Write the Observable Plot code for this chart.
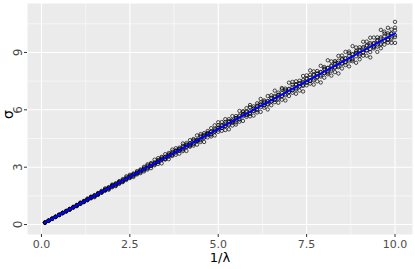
<!DOCTYPE html>
<html>
<head>
<meta charset="utf-8">
<script src="https://cdn.jsdelivr.net/npm/d3@7"></script>
<script src="https://cdn.jsdelivr.net/npm/@observablehq/plot@0.6"></script>
<style>
  html, body { margin: 0; padding: 0; background: #fff; }
  #chart svg { display: block; }
</style>
</head>
<body>
<div id="chart"></div>
<script>
// 1/λ values
const invLambda = [0.1,0.2,0.3,0.4,0.5,0.6,0.7,0.8,0.9,1.0,1.1,1.2,1.3,1.4,1.5,1.6,1.7,1.8,1.9,2.0,
  2.1,2.2,2.3,2.4,2.5,2.6,2.7,2.8,2.9,3.0,3.1,3.2,3.3,3.4,3.5,3.6,3.7,3.8,3.9,4.0,
  4.1,4.2,4.3,4.4,4.5,4.6,4.7,4.8,4.9,5.0,5.1,5.2,5.3,5.4,5.5,5.6,5.7,5.8,5.9,6.0,
  6.1,6.2,6.3,6.4,6.5,6.6,6.7,6.8,6.9,7.0,7.1,7.2,7.3,7.4,7.5,7.6,7.7,7.8,7.9,8.0,
  8.1,8.2,8.3,8.4,8.5,8.6,8.7,8.8,8.9,9.0,9.1,9.2,9.3,9.4,9.5,9.6,9.7,9.8,9.9,10.0];
// σ estimates, six replicates per 1/λ
const sigmaA = [0.10,0.20,0.31,0.41,0.49,0.62,0.69,0.82,0.88,1.03,1.08,1.24,1.27,1.44,1.46,1.65,1.68,1.85,1.86,2.06,
  2.04,2.27,2.25,2.46,2.43,2.67,2.62,2.88,2.84,3.09,3.07,3.39,3.17,3.43,3.43,3.74,3.59,3.88,3.71,4.12,
  4.06,4.41,4.21,4.44,4.64,4.32,4.89,4.70,5.00,4.85,5.36,5.15,5.41,5.18,5.67,5.49,5.76,5.63,6.14,5.94,
  6.22,5.89,6.49,6.27,6.76,6.40,6.77,6.53,7.04,6.93,7.31,6.84,7.37,7.25,7.80,7.37,7.85,7.72,8.30,7.68,
  8.18,8.04,8.55,7.90,8.67,8.51,9.05,8.54,8.99,8.82,9.56,8.83,9.49,9.31,9.79,9.41,10.09,9.51,10.00,9.80];
const sigmaB = [0.11,0.21,0.29,0.39,0.52,0.59,0.72,0.79,0.93,0.98,1.13,1.17,1.33,1.37,1.54,1.57,1.76,1.77,1.95,1.95,
  2.16,2.16,2.38,2.33,2.56,2.54,2.79,2.74,2.97,2.94,3.22,3.10,3.37,3.20,3.68,3.56,3.81,3.65,3.94,4.24,
  4.18,4.07,4.47,4.18,4.41,4.69,4.56,5.04,4.85,5.20,4.90,5.36,5.19,5.45,5.34,5.94,5.42,5.92,5.78,6.18,
  5.86,6.26,6.11,6.72,6.44,6.73,6.37,7.07,6.76,7.42,6.89,7.34,7.01,7.77,7.43,7.83,7.32,7.88,7.74,8.24,
  7.86,8.53,8.22,8.57,8.16,9.03,8.53,8.89,8.46,9.27,9.01,9.38,9.02,9.78,9.03,9.79,9.60,10.29,9.50,10.60];
const sigmaC = [0.10,0.19,0.30,0.40,0.50,0.60,0.71,0.77,0.90,1.01,1.10,1.21,1.36,1.41,1.51,1.62,1.66,1.89,1.82,2.02,
  2.11,2.23,2.31,2.52,2.48,2.63,2.71,2.83,2.78,3.15,2.95,3.23,3.47,3.50,3.40,3.42,3.92,3.84,4.02,3.92,
  3.85,4.24,4.13,4.66,4.32,4.78,4.75,4.61,5.19,5.05,5.05,4.94,5.51,5.67,5.56,5.38,5.87,5.74,6.25,5.70,
  6.34,6.39,6.24,6.46,6.24,7.00,6.90,6.73,6.49,7.07,7.46,7.06,7.52,6.96,7.65,7.52,8.01,7.49,7.98,7.92,
  8.59,7.79,8.47,8.23,8.84,8.34,8.27,9.33,9.08,8.64,9.28,9.11,9.77,9.21,9.60,9.22,9.99,9.70,10.20,9.50];
const sigmaD = [0.10,0.20,0.31,0.42,0.51,0.61,0.68,0.81,0.91,0.96,1.15,1.19,1.29,1.46,1.43,1.55,1.73,1.80,1.93,2.09,
  2.01,2.13,2.22,2.38,2.60,2.49,2.66,2.69,3.02,2.88,3.16,3.14,3.27,3.54,3.54,3.67,3.63,3.99,3.86,3.84,
  4.26,4.12,4.43,4.36,4.73,4.55,4.79,4.85,4.66,5.35,5.20,5.51,4.98,5.35,5.23,5.71,5.93,6.09,5.66,6.06,
  5.98,6.57,6.43,6.02,6.63,6.53,6.57,7.14,7.11,6.72,7.03,7.49,7.23,7.55,7.28,8.06,7.55,8.03,7.43,8.16,
  7.94,8.28,7.97,8.82,8.42,8.69,8.96,8.62,9.26,9.09,8.83,9.57,8.74,9.49,9.31,10.18,9.41,10.00,9.70,10.30];
const sigmaE = [0.10,0.20,0.30,0.40,0.51,0.60,0.70,0.80,0.90,1.01,1.11,1.19,1.31,1.40,1.52,1.59,1.71,1.81,1.89,2.02,
  2.12,2.19,2.32,2.41,2.47,2.62,2.68,2.83,2.91,2.97,3.14,3.18,3.34,3.41,3.46,3.64,3.68,3.83,3.96,3.97,
  4.15,4.16,4.36,4.41,4.46,4.65,4.68,4.86,4.93,4.96,5.16,5.15,5.36,5.42,5.45,5.66,5.66,5.87,5.93,5.95,
  6.17,6.14,6.38,6.44,6.44,6.67,6.65,6.88,6.96,6.94,7.19,7.13,7.39,7.45,7.43,7.69,7.64,7.90,7.96,7.92,
  8.20,8.12,8.40,8.46,8.42,8.70,8.62,8.91,8.97,8.91,9.21,9.11,9.41,9.47,9.41,9.72,9.61,9.92,9.98,9.90];
const sigmaF = [0.10,0.20,0.30,0.40,0.50,0.61,0.70,0.81,0.91,0.99,1.09,1.21,1.29,1.41,1.49,1.62,1.69,1.79,1.92,1.98,
  2.08,2.23,2.28,2.39,2.53,2.58,2.73,2.78,2.88,3.04,3.06,3.23,3.27,3.37,3.54,3.57,3.74,3.76,3.87,4.06,
  4.06,4.25,4.25,4.36,4.56,4.55,4.75,4.74,4.86,5.07,5.05,5.27,5.24,5.34,5.57,5.53,5.77,5.72,5.84,6.08,
  6.04,6.29,6.23,6.32,6.59,6.52,6.79,6.70,6.83,7.10,7.02,7.30,7.21,7.31,7.61,7.50,7.81,7.69,7.81,8.12,
  8.01,8.32,8.20,8.29,8.63,8.48,8.83,8.67,8.80,9.14,8.99,9.34,9.18,9.28,9.65,9.46,9.85,9.65,9.78,10.15];
// reference line σ = 1/λ
const lineX = [0.1, 10.0];
const lineY = [0.1, 10.0];

const xMajor = [0, 2.5, 5, 7.5, 10];
const xMinor = [1.25, 3.75, 6.25, 8.75];
const yMajor = [0, 3, 6, 9];
const yMinor = [1.5, 4.5, 7.5, 10.5];
const xTickLabels = ["0.0", "2.5", "5.0", "7.5", "10.0"];
const yTickLabels = ["0", "3", "6", "9"];

const points = [];
for (const s of [sigmaA, sigmaB, sigmaC, sigmaD, sigmaE, sigmaF]) {
  invLambda.forEach((x, i) => points.push({x, y: s[i]}));
}
const line = lineX.map((x, i) => ({x, y: lineY[i]}));

const font = "DejaVu Sans, sans-serif";
const chart = Plot.plot({
  width: 415,
  height: 269,
  marginLeft: 27,
  marginRight: 3,
  marginTop: 3,
  marginBottom: 35,
  style: {fontFamily: font, background: "#fff"},
  x: {domain: [-0.395, 10.495]},
  y: {domain: [-0.52, 11.56]},
  marks: [
    Plot.frame({fill: "#EBEBEB", stroke: null}),
    Plot.gridX(xMinor, {stroke: "#fff", strokeOpacity: 1, strokeWidth: 0.55}),
    Plot.gridY(yMinor, {stroke: "#fff", strokeOpacity: 1, strokeWidth: 0.55}),
    Plot.gridX(xMajor, {stroke: "#fff", strokeOpacity: 1, strokeWidth: 1.1}),
    Plot.gridY(yMajor, {stroke: "#fff", strokeOpacity: 1, strokeWidth: 1.1}),
    Plot.axisX(xMajor, {tickSize: 3, tickPadding: 2.5, stroke: "#333", fill: "#4D4D4D", fontSize: 11,
      tickFormat: (d, i) => xTickLabels[i], label: null}),
    Plot.axisY(yMajor, {tickSize: 3, stroke: "#333", text: null, label: null}),
    Plot.text(yMajor, {y: d => d, frameAnchor: "left", dx: -9, rotate: -90, text: (d, i) => yTickLabels[i],
      fontSize: 12, fill: "#4D4D4D", lineAnchor: "middle", textAnchor: "middle"}),
    Plot.dot(points, {x: "x", y: "y", r: 1.7, stroke: "#000", strokeWidth: 0.7, fill: "none"}),
    Plot.line(line, {x: "x", y: "y", stroke: "#0000FF", strokeWidth: 2}),
    Plot.text(["σ"], {frameAnchor: "left", dx: -19, rotate: -90, fontSize: 14, fill: "#000"}),
    Plot.text(["1/λ"], {frameAnchor: "bottom", lineAnchor: "middle", dy: 23, fontSize: 13, fill: "#000"})
  ]
});
document.getElementById("chart").appendChild(chart);
</script>
</body>
</html>
